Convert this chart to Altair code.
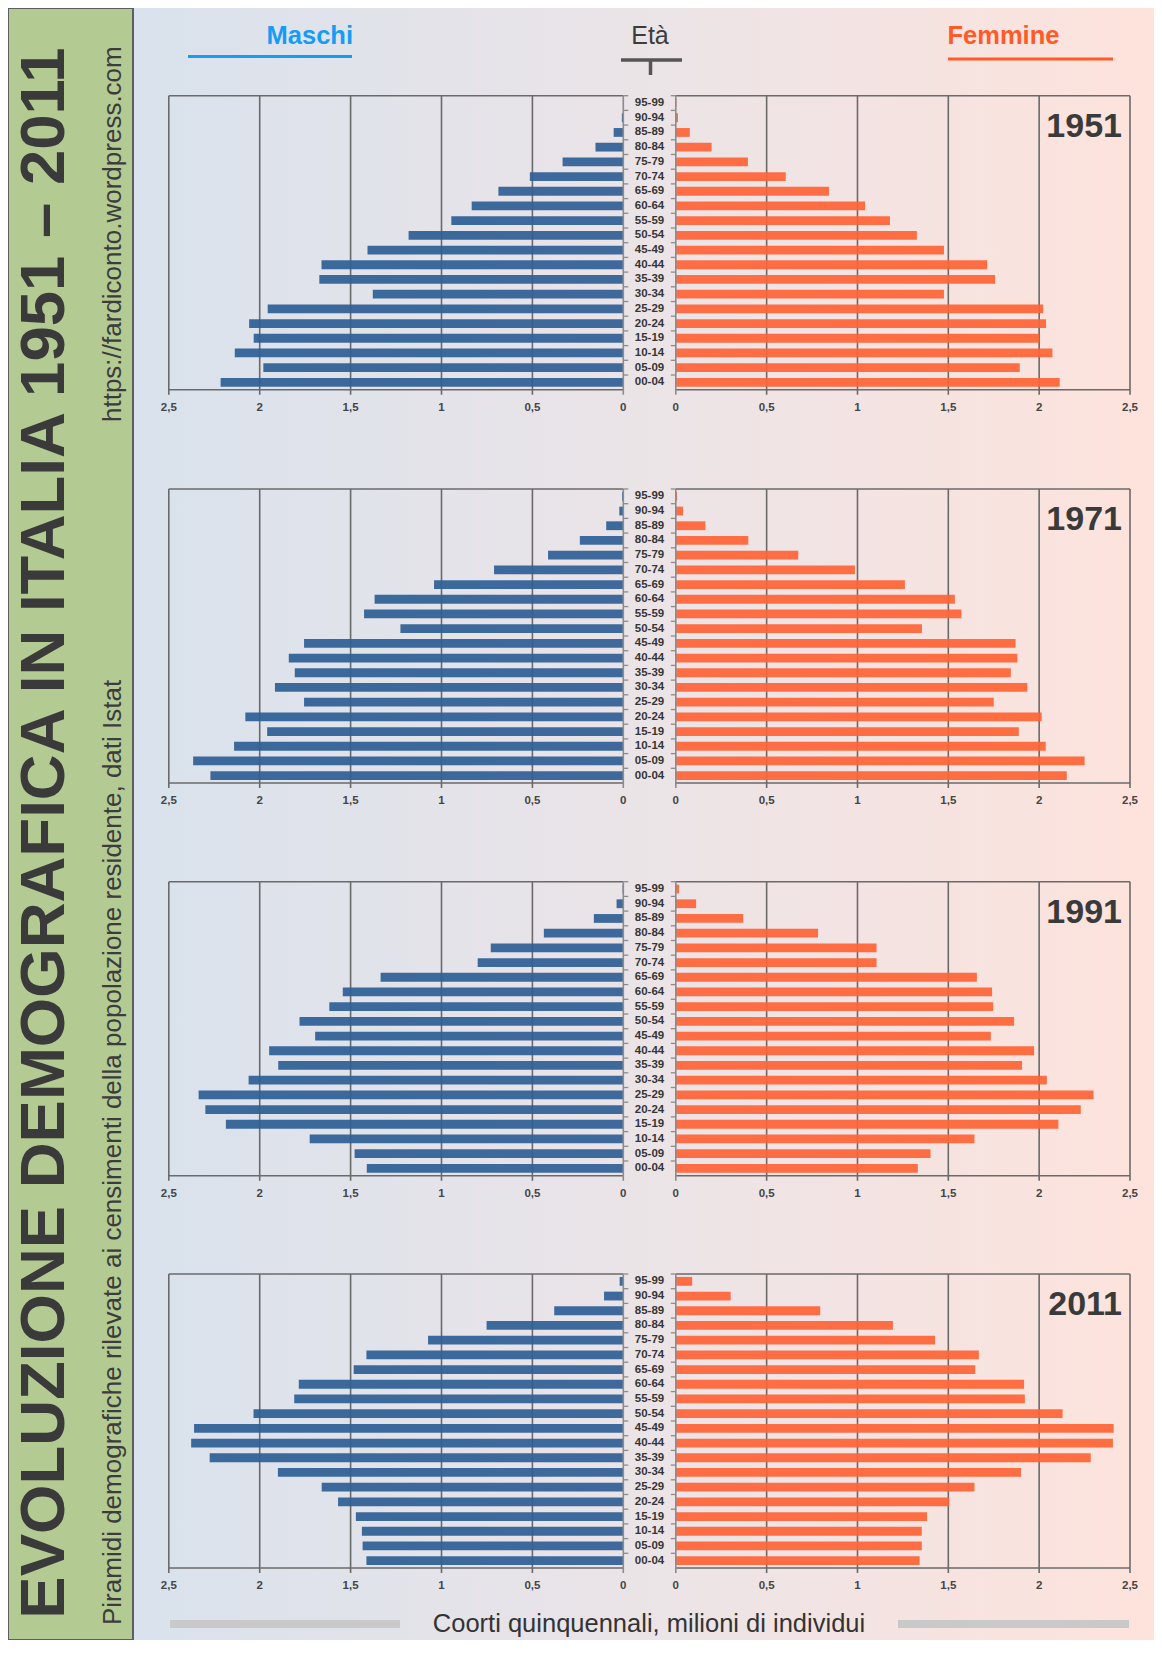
import altair as alt
import pandas as pd

# ---------------- data (milioni di individui) ----------------
ages = ["00-04", "05-09", "10-14", "15-19", "20-24", "25-29", "30-34", "35-39",
        "40-44", "45-49", "50-54", "55-59", "60-64", "65-69", "70-74", "75-79",
        "80-84", "85-89", "90-94", "95-99"]
years = ["1951", "1971", "1991", "2011"]

maschi_1951 = [2.215, 1.980, 2.137, 2.033, 2.058, 1.956, 1.378, 1.672, 1.660, 1.407,
               1.181, 0.946, 0.834, 0.687, 0.514, 0.334, 0.153, 0.053, 0.008, 0.002]
femmine_1951 = [2.113, 1.893, 2.073, 2.001, 2.038, 2.022, 1.476, 1.757, 1.714, 1.476,
                1.327, 1.179, 1.042, 0.843, 0.605, 0.397, 0.197, 0.077, 0.012, 0.003]
maschi_1971 = [2.271, 2.366, 2.141, 1.959, 2.079, 1.756, 1.916, 1.807, 1.840, 1.756,
               1.226, 1.426, 1.368, 1.041, 0.711, 0.414, 0.239, 0.094, 0.022, 0.007]
femmine_1971 = [2.152, 2.250, 2.036, 1.888, 2.014, 1.750, 1.935, 1.844, 1.880, 1.870,
                1.355, 1.572, 1.536, 1.261, 0.986, 0.674, 0.399, 0.163, 0.040, 0.007]
maschi_1991 = [1.411, 1.478, 1.725, 2.186, 2.299, 2.336, 2.061, 1.898, 1.948, 1.695,
               1.781, 1.617, 1.543, 1.335, 0.801, 0.729, 0.437, 0.162, 0.037, 0.004]
femmine_1991 = [1.332, 1.402, 1.644, 2.106, 2.229, 2.299, 2.042, 1.906, 1.972, 1.734,
                1.862, 1.747, 1.741, 1.657, 1.105, 1.105, 0.783, 0.371, 0.112, 0.018]
maschi_2011 = [1.413, 1.434, 1.438, 1.471, 1.569, 1.659, 1.900, 2.275, 2.377, 2.361,
               2.034, 1.810, 1.785, 1.483, 1.413, 1.074, 0.752, 0.380, 0.106, 0.020]
femmine_2011 = [1.342, 1.354, 1.354, 1.383, 1.505, 1.644, 1.900, 2.284, 2.406, 2.410,
                2.129, 1.921, 1.917, 1.648, 1.668, 1.427, 1.195, 0.795, 0.302, 0.090]

maschi = {"1951": maschi_1951, "1971": maschi_1971, "1991": maschi_1991, "2011": maschi_2011}
femmine = {"1951": femmine_1951, "1971": femmine_1971, "1991": femmine_1991, "2011": femmine_2011}

tick_values = [0, 0.5, 1, 1.5, 2, 2.5]
tick_labels = ["0", "0,5", "1", "1,5", "2", "2,5"]

title_text = "EVOLUZIONE DEMOGRAFICA IN ITALIA 1951 \u2013 2011"
subtitle_text = "Piramidi demografiche rilevate ai censimenti della popolazione residente, dati Istat"
url_text = "https://fardiconto.wordpress.com"
footer_text = "Coorti quinquennali, milioni di individui"

# ---------------- layout / style ----------------
W, H = 1146, 1632
M = 8  # page margin
FONT = "Liberation Sans"
BLUE = "#2f6096"
ORANGE = "#ff6437"
GRID = "#6a6a6a"
AXIS0 = "#8c8c8c"
panel_tops = [95.7, 489.0, 881.7, 1274.0]   # page coordinates
PANEL_H = 294
MALE_RANGE = [623.3 - M, 168.8 - M]
FEMALE_RANGE = [675.8 - M, 1130.0 - M]
LABEL_X = 649.5 - M

one = alt.Data(values=[{}])


def txt(text, x, y, **kw):
    return alt.Chart(one).mark_text(text=text, font=FONT, **kw).encode(
        x=alt.value(x), y=alt.value(y))


def hline(x1, x2, y, color, width):
    return alt.Chart(one).mark_rule(color=color, strokeWidth=width).encode(
        x=alt.value(x1), x2=alt.value(x2), y=alt.value(y))


def vline(x, y1, y2, color, width):
    return alt.Chart(one).mark_rule(color=color, strokeWidth=width).encode(
        x=alt.value(x), y=alt.value(y1), y2=alt.value(y2))


layers = []

# background gradient
layers.append(
    alt.Chart(one).mark_rect(
        color=alt.Gradient(
            gradient="linear", x1=0, x2=1, y1=0, y2=0,
            stops=[alt.GradientStop(color="#d9e2ed", offset=0),
                   alt.GradientStop(color="#ebe4e7", offset=0.5),
                   alt.GradientStop(color="#fee3dc", offset=1)])
    ).encode(x=alt.value(125), x2=alt.value(W), y=alt.value(0), y2=alt.value(H))
)

# sidebar
layers.append(
    alt.Chart(one).mark_rect(fill="#b4ca93", stroke="#5e5e5e", strokeWidth=2).encode(
        x=alt.value(0), x2=alt.value(125), y=alt.value(0), y2=alt.value(H))
)
layers.append(txt(title_text, 37, 825, angle=270, fontSize=63.5, fontWeight="bold",
                  color="#3a3a3a", align="center", baseline="middle"))
layers.append(txt(subtitle_text, 105, 1617, angle=270, fontSize=26,
                  color="#3c3c3c", align="left", baseline="middle"))
layers.append(txt(url_text, 105, 414, angle=270, fontSize=26,
                  color="#3c3c3c", align="left", baseline="middle"))

# header
layers.append(txt("Maschi", 353 - M, 44.3 - M, fontSize=25.5, fontWeight="bold",
                  color="#169cf4", align="right", baseline="alphabetic"))
layers.append(hline(188 - M, 352 - M, 56.5 - M, "#169cf4", 3))
layers.append(txt("Et\u00e0", 650 - M, 44.3 - M, fontSize=25,
                  color="#3c3c3c", align="center", baseline="alphabetic"))
layers.append(hline(621 - M, 682 - M, 60 - M, "#555555", 3.5))
layers.append(vline(650.5 - M, 60 - M, 75 - M, "#555555", 3.5))
layers.append(txt("Femmine", 947.5 - M, 44.3 - M, fontSize=25.5, fontWeight="bold",
                  color="#ff5a28", align="left", baseline="alphabetic"))
layers.append(hline(948 - M, 1113 - M, 59 - M, "#ff5a28", 3))

# footer
layers.append(hline(170 - M, 400 - M, 1624 - M, "#c9c9c9", 8))
layers.append(hline(898 - M, 1129 - M, 1624 - M, "#c9c9c9", 8))
layers.append(txt(footer_text, 649 - M, 1632 - M, fontSize=25.5,
                  color="#333333", align="center", baseline="alphabetic"))

ticks_df = pd.DataFrame({"v": tick_values, "lab": tick_labels})
frame_df = pd.DataFrame({"a": [0.0], "b": [2.5]})

for year, top in zip(years, panel_tops):
    ytop = top - M
    ybot = ytop + PANEL_H
    df = pd.DataFrame({"age": ages, "m": maschi[year], "f": femmine[year]})
    y_bar = alt.Y("age:N", axis=None,
                  scale=alt.Scale(domain=ages[::-1], range=[ytop, ybot],
                                  paddingInner=0.4, paddingOuter=0.2))
    y_edge = alt.Y("age:N", axis=None, bandPosition=0,
                   scale=alt.Scale(domain=ages[::-1], range=[ytop, ybot],
                                   paddingInner=0, paddingOuter=0))

    for rng, field, color, tick_dir in [(MALE_RANGE, "m", BLUE, 1),
                                        (FEMALE_RANGE, "f", ORANGE, -1)]:
        xs = alt.Scale(domain=[0, 2.5], range=rng, zero=True, nice=False)
        # grid lines + frame at 2.5
        layers.append(
            alt.Chart(ticks_df).transform_filter("datum.v > 0").mark_rule(
                color=GRID, strokeWidth=1.6).encode(
                x=alt.X("v:Q", scale=xs, axis=None),
                y=alt.value(ytop), y2=alt.value(ybot + 5)))
        # top frame line and bottom axis line
        for yy in (ytop, ybot):
            layers.append(
                alt.Chart(frame_df).mark_rule(color=GRID, strokeWidth=1.6).encode(
                    x=alt.X("a:Q", scale=xs, axis=None), x2="b:Q",
                    y=alt.value(yy)))
        # bars
        layers.append(
            alt.Chart(df).mark_bar(color=color, opacity=0.93).encode(
                x=alt.X(f"{field}:Q", scale=xs, axis=None),
                y=y_bar))
        # zero axis line
        layers.append(
            alt.Chart(ticks_df).transform_filter("datum.v == 0").mark_rule(
                color=AXIS0, strokeWidth=1.6).encode(
                x=alt.X("v:Q", scale=xs, axis=None),
                y=alt.value(ytop), y2=alt.value(ybot + 5)))
        # band boundary ticks on the zero axis
        x0 = rng[0]
        layers.append(
            alt.Chart(df).mark_rule(color=AXIS0, strokeWidth=1.3).encode(
                x=alt.value(x0), x2=alt.value(x0 + 5 * tick_dir),
                y=y_edge))
        # tick labels
        layers.append(
            alt.Chart(ticks_df).mark_text(font=FONT, fontSize=11.5, fontWeight="bold",
                                          color="#454545", baseline="middle").encode(
                x=alt.X("v:Q", scale=xs, axis=None),
                y=alt.value(ybot + 18),
                text="lab:N"))

    # age labels
    layers.append(
        alt.Chart(df).mark_text(font=FONT, fontSize=11.5, fontWeight="bold",
                                color="#353535", baseline="middle").encode(
            x=alt.value(LABEL_X), y=y_bar, text="age:N"))
    # year label
    layers.append(txt(year, 1122 - M, ytop + 41, fontSize=34, fontWeight="bold",
                      color="#3a3a3a", align="right", baseline="alphabetic"))

chart = alt.layer(*layers).resolve_scale(x="independent", y="independent").properties(
    width=W, height=H, padding=0,
    autosize=alt.AutoSizeParams(type="none"),
).configure_view(stroke=None)

chart.save("out.html", embed_options={"renderer": "svg", "actions": False})
